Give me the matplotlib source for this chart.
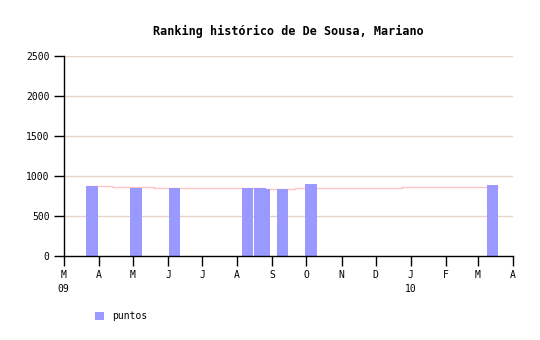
import matplotlib
matplotlib.use("Agg")
import matplotlib.pyplot as plt
import matplotlib.dates as mdates
from datetime import date

# Data
bar_dates = ["2009-03-21", "2009-04-29", "2009-06-02", "2009-08-05", "2009-08-16",
             "2009-08-20", "2009-09-05", "2009-09-30", "2010-03-09"]
bar_values = [875, 855, 850, 850, 850, 838, 840, 900, 890]

line_dates = ["2009-03-21", "2009-04-13", "2009-05-20", "2009-08-25", "2009-09-21",
              "2009-12-24", "2010-03-19"]
line_values = [874, 861, 849, 836, 849, 861, 861]

tick_dates = ["2009-03-01", "2009-04-01", "2009-05-01", "2009-06-01", "2009-07-01",
              "2009-08-01", "2009-09-01", "2009-10-01", "2009-11-01", "2009-12-01",
              "2010-01-01", "2010-02-01", "2010-03-01", "2010-04-01"]
tick_labels = ["M\n09", "A", "M", "J", "J", "A", "S", "O", "N", "D", "J\n10", "F", "M", "A"]
y_ticks = [0, 500, 1000, 1500, 2000, 2500]

title = "Ranking histórico de De Sousa, Mariano"
legend_label = "puntos"

def dn(s):
    return mdates.date2num(date.fromisoformat(s))

plt.rcParams['font.family'] = ['DejaVu Sans Mono']

fig = plt.figure(figsize=(5.4, 3.4), dpi=100)
ax = fig.add_axes([63.5/540, (340-256.3)/340, (513-63.5)/540, 200.3/340])

bx = [dn(d) for d in bar_dates]
ax.bar(bx, bar_values, width=10, align='edge', color='#9999ff', zorder=2, label=legend_label)

lx = [dn(d) for d in line_dates]
ax.step(lx, line_values, where='post', color='#ffc4c4', linewidth=1.0, zorder=1.5)

for v in y_ticks[1:]:
    ax.axhline(v, color='#e8d2c8', linewidth=1.0, zorder=1)

ax.set_xlim(dn("2009-03-01"), dn("2010-04-01"))
ax.set_ylim(0, 2500)
ax.set_yticks(y_ticks)
ax.set_yticklabels([str(v) for v in y_ticks], fontsize=7)
ax.set_xticks([dn(d) for d in tick_dates])
ax.set_xticklabels(tick_labels, fontsize=7, linespacing=1.5)
ax.tick_params(axis='both', direction='out', length=7, width=1, color='black', pad=2)
ax.tick_params(axis='x', pad=3)
ax.tick_params(axis='y', pad=3)
for s in ['top', 'right']:
    ax.spines[s].set_visible(False)
for s in ['left', 'bottom']:
    ax.spines[s].set_color('black')
    ax.spines[s].set_linewidth(1)

fig.text(288/540, 1 - 31/340, title, ha='center', va='center', fontsize=8.5, fontweight='bold')

fig.legend(loc='center left', bbox_to_anchor=(86/540, 1 - 316/340), frameon=False,
           fontsize=7, handlelength=0.9, handleheight=0.9, handletextpad=0.9)

fig.savefig("out.png", dpi=100)
